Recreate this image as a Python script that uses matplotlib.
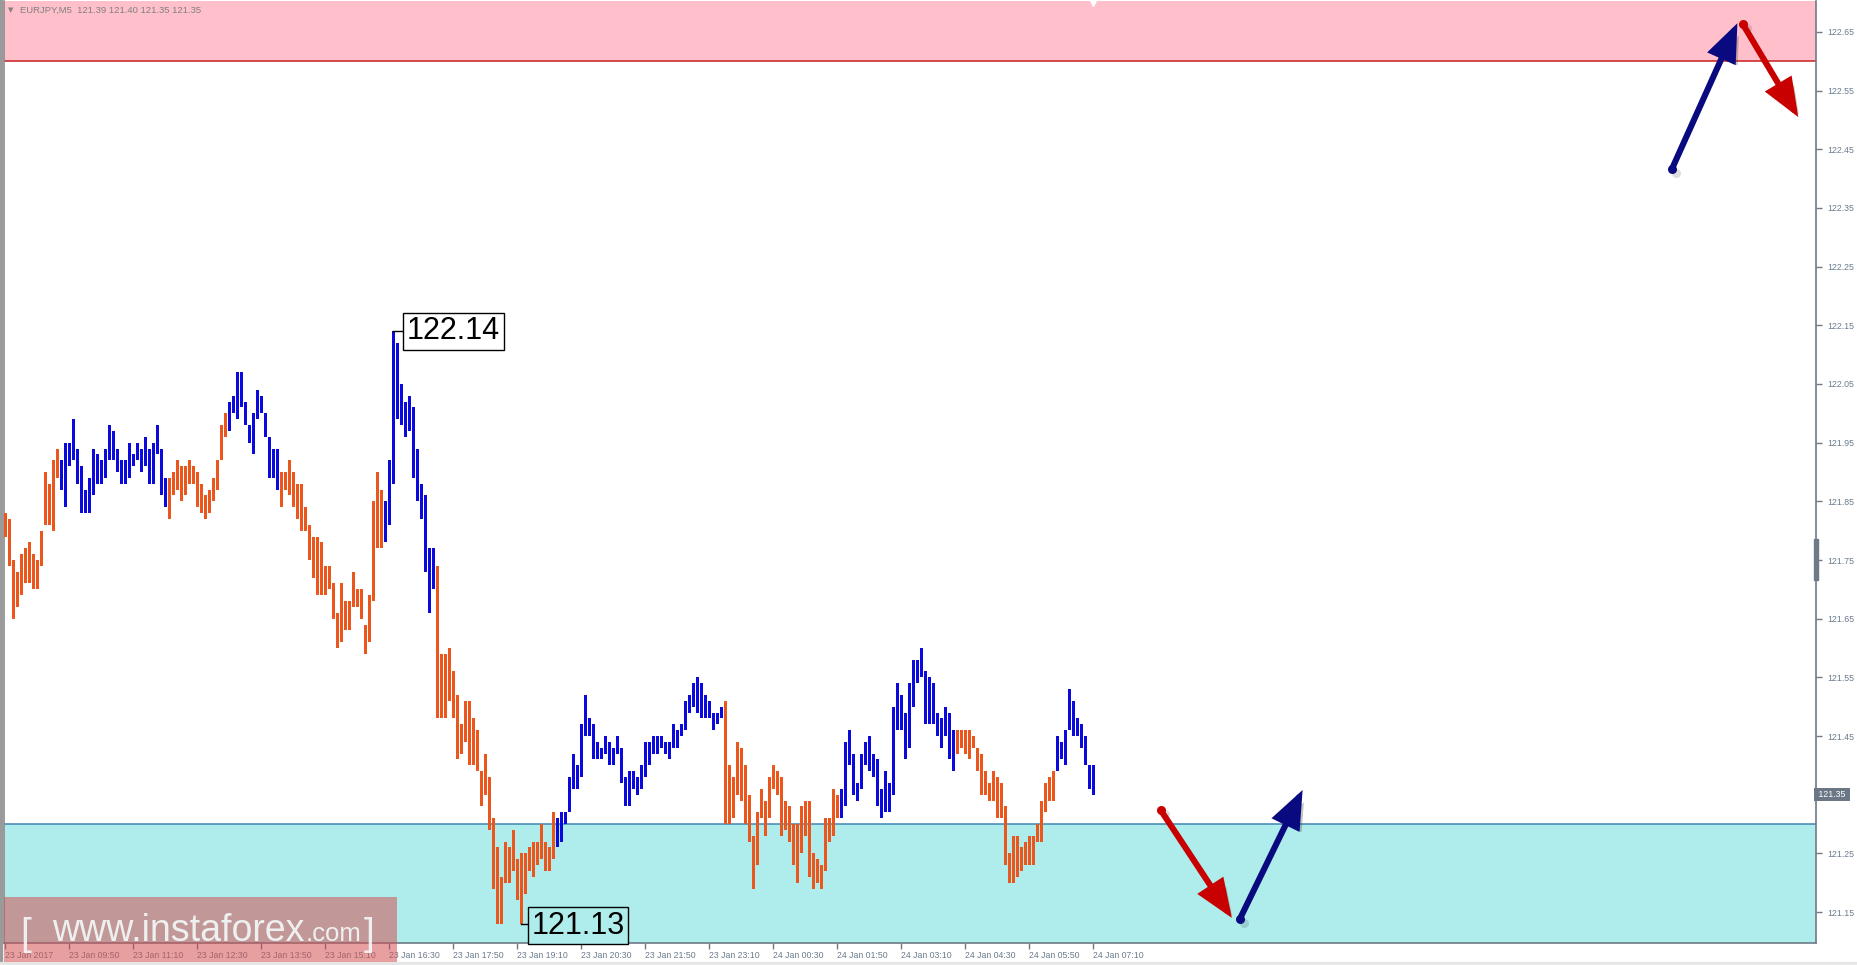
import matplotlib
matplotlib.use("Agg")
import matplotlib.pyplot as plt
import matplotlib.patheffects as pe
import matplotlib.transforms as mtransforms
from matplotlib.patches import Rectangle
import numpy as np

# ---------------- data ----------------
header_text = "EURJPY,M5  121.39 121.40 121.35 121.35"

bar_high = [
    121.83, 121.82, 121.75, 121.73, 121.76, 121.77, 121.78, 121.76, 121.75, 121.80,
    121.90, 121.88, 121.92, 121.94, 121.92, 121.95, 121.95, 121.99, 121.94, 121.91,
    121.87, 121.89, 121.94, 121.93, 121.92, 121.94, 121.98, 121.97, 121.94, 121.92,
    121.92, 121.95, 121.93, 121.95, 121.94, 121.96, 121.94, 121.95, 121.98, 121.94,
    121.89, 121.89, 121.90, 121.92, 121.91, 121.91, 121.92, 121.91, 121.90, 121.88,
    121.86, 121.87, 121.89, 121.92, 121.98, 122.00, 122.02, 122.03, 122.07, 122.07,
    122.02, 121.98, 122.00, 122.04, 122.03, 122.00, 121.96, 121.94, 121.94, 121.90,
    121.90, 121.92, 121.90, 121.88, 121.88, 121.84, 121.81, 121.79, 121.79, 121.78,
    121.74, 121.74, 121.71, 121.66, 121.71, 121.68, 121.68, 121.73, 121.70, 121.70,
    121.64, 121.69, 121.85, 121.90, 121.87, 121.85, 121.92, 122.14, 122.12, 122.05,
    122.02, 122.03, 122.01, 121.94, 121.88, 121.86, 121.77, 121.77, 121.74, 121.59,
    121.59, 121.60, 121.56, 121.52, 121.47, 121.51, 121.51, 121.48, 121.46, 121.39,
    121.42, 121.38, 121.31, 121.26, 121.21, 121.27, 121.26, 121.29, 121.24, 121.25,
    121.25, 121.26, 121.27, 121.27, 121.30, 121.27, 121.26, 121.32, 121.31, 121.32,
    121.32, 121.38, 121.42, 121.40, 121.47, 121.52, 121.48, 121.47, 121.44, 121.43,
    121.45, 121.44, 121.43, 121.45, 121.43, 121.38, 121.39, 121.39, 121.38, 121.40,
    121.44, 121.44, 121.45, 121.45, 121.45, 121.44, 121.44, 121.47, 121.46, 121.47,
    121.51, 121.52, 121.54, 121.55, 121.54, 121.52, 121.51, 121.49, 121.49, 121.50,
    121.51, 121.40, 121.38, 121.44, 121.43, 121.40, 121.35, 121.28, 121.32, 121.36,
    121.34, 121.38, 121.40, 121.39, 121.38, 121.34, 121.33, 121.30, 121.30, 121.33,
    121.34, 121.34, 121.25, 121.24, 121.23, 121.31, 121.31, 121.36, 121.35, 121.36,
    121.44, 121.46, 121.42, 121.37, 121.42, 121.44, 121.45, 121.42, 121.41, 121.36,
    121.39, 121.37, 121.50, 121.54, 121.52, 121.49, 121.54, 121.58, 121.58, 121.60,
    121.56, 121.55, 121.54, 121.49, 121.48, 121.50, 121.49, 121.46, 121.46, 121.46,
    121.46, 121.46, 121.45, 121.43, 121.42, 121.39, 121.37, 121.39, 121.38, 121.37,
    121.33, 121.25, 121.28, 121.28, 121.26, 121.27, 121.28, 121.28, 121.30, 121.34,
    121.37, 121.38, 121.39, 121.45, 121.44, 121.46, 121.53, 121.51, 121.48, 121.47,
    121.45, 121.40, 121.40,
]
bar_low = [
    121.79, 121.74, 121.65, 121.67, 121.69, 121.71, 121.71, 121.70, 121.70, 121.74,
    121.81, 121.81, 121.80, 121.89, 121.87, 121.84, 121.91, 121.92, 121.88, 121.83,
    121.83, 121.83, 121.86, 121.88, 121.88, 121.89, 121.92, 121.92, 121.90, 121.88,
    121.88, 121.89, 121.91, 121.92, 121.90, 121.91, 121.88, 121.88, 121.93, 121.86,
    121.84, 121.82, 121.86, 121.87, 121.85, 121.86, 121.88, 121.88, 121.84, 121.83,
    121.82, 121.83, 121.85, 121.87, 121.92, 121.96, 121.97, 122.00, 121.99, 122.01,
    121.98, 121.95, 121.93, 121.99, 122.00, 121.96, 121.89, 121.89, 121.87, 121.84,
    121.87, 121.86, 121.84, 121.82, 121.80, 121.80, 121.75, 121.72, 121.69, 121.69,
    121.69, 121.70, 121.65, 121.60, 121.61, 121.63, 121.63, 121.67, 121.67, 121.65,
    121.59, 121.61, 121.68, 121.77, 121.77, 121.78, 121.81, 121.88, 121.99, 121.98,
    121.96, 121.97, 121.89, 121.85, 121.82, 121.73, 121.66, 121.70, 121.48, 121.48,
    121.48, 121.51, 121.48, 121.41, 121.42, 121.44, 121.40, 121.40, 121.39, 121.33,
    121.35, 121.29, 121.19, 121.13, 121.13, 121.20, 121.20, 121.22, 121.17, 121.13,
    121.18, 121.22, 121.21, 121.23, 121.24, 121.22, 121.22, 121.24, 121.26, 121.27,
    121.30, 121.32, 121.36, 121.36, 121.38, 121.45, 121.45, 121.41, 121.41, 121.41,
    121.42, 121.40, 121.40, 121.42, 121.37, 121.33, 121.33, 121.36, 121.35, 121.36,
    121.38, 121.40, 121.42, 121.42, 121.43, 121.42, 121.41, 121.43, 121.43, 121.45,
    121.46, 121.49, 121.50, 121.49, 121.48, 121.48, 121.48, 121.46, 121.47, 121.48,
    121.30, 121.30, 121.31, 121.35, 121.34, 121.30, 121.27, 121.19, 121.23, 121.31,
    121.28, 121.31, 121.36, 121.35, 121.28, 121.29, 121.27, 121.23, 121.20, 121.25,
    121.28, 121.21, 121.19, 121.20, 121.19, 121.22, 121.27, 121.28, 121.31, 121.31,
    121.33, 121.40, 121.35, 121.34, 121.36, 121.40, 121.39, 121.38, 121.33, 121.31,
    121.32, 121.32, 121.35, 121.46, 121.46, 121.41, 121.43, 121.50, 121.54, 121.55,
    121.47, 121.47, 121.47, 121.45, 121.43, 121.45, 121.41, 121.39, 121.42, 121.43,
    121.42, 121.41, 121.43, 121.39, 121.35, 121.35, 121.34, 121.34, 121.31, 121.31,
    121.23, 121.20, 121.20, 121.21, 121.22, 121.23, 121.23, 121.23, 121.27, 121.27,
    121.32, 121.34, 121.34, 121.39, 121.41, 121.40, 121.46, 121.45, 121.45, 121.43,
    121.40, 121.36, 121.35,
]
# index ranges (inclusive) of bars drawn in blue; the rest are orange
blue_segments = [(14, 40), (56, 68), (95, 107), (138, 179), (209, 237), (263, 272)]

time_labels = ["23 Jan 2017", "23 Jan 09:50", "23 Jan 11:10", "23 Jan 12:30",
               "23 Jan 13:50", "23 Jan 15:10", "23 Jan 16:30", "23 Jan 17:50",
               "23 Jan 19:10", "23 Jan 20:30", "23 Jan 21:50", "23 Jan 23:10",
               "24 Jan 00:30", "24 Jan 01:50", "24 Jan 03:10", "24 Jan 04:30",
               "24 Jan 05:50", "24 Jan 07:10"]
bars_per_label = 16

price_ticks = [121.15, 121.25, 121.35, 121.45, 121.55, 121.65, 121.75, 121.85,
               121.95, 122.05, 122.15, 122.25, 122.35, 122.45, 122.55, 122.65]
last_price = 121.35
resistance_level = 122.60
support_level = 121.30
swing_high = (97, 122.14)
swing_low = (129, 121.13)

# forecast arrows: (start bar, start price, end bar, end price, kind)
forecast_arrows = [
    (288.9, 121.324, 306.7, 121.140, "down"),
    (308.7, 121.138, 324.4, 121.358, "up"),
    (416.7, 122.416, 433.1, 122.665, "up"),
    (434.4, 122.664, 448.3, 122.505, "down"),
]

# ---------------- styling ----------------
W, H = 1857, 965
DPI = 100
ORANGE = "#EA561C"
BLUE = "#0A0ADC"
AXCOL = "#6E7A86"
LABCOL = "#6B7B8C"
FONT = ["Liberation Sans", "DejaVu Sans"]
plt.rcParams["font.family"] = FONT

fig = plt.figure(figsize=(W / DPI, H / DPI), dpi=DPI, facecolor="white")
ax_l, ax_r, ax_t, ax_b = 4, 1816, 1, 943
ax = fig.add_axes([ax_l / W, 1 - ax_b / H, (ax_r - ax_l) / W, (ax_b - ax_t) / H])
ax.set_facecolor("white")

y_lo, y_hi = 121.0972, 122.7028
x_lo, x_hi = -0.25, 452.75

# zones
ax.axhspan(resistance_level, y_hi + 1, color="#FFC0CB", zorder=0, lw=0)
ax.axhline(resistance_level, color="#C81E1E", lw=1.1, zorder=1)
ax.axhspan(y_lo - 1, support_level, color="#AFEDED", zorder=0, lw=0)
ax.axhline(support_level, color="#3F86B4", lw=1.1, zorder=1)

# bars
n = len(bar_high)
idx = np.arange(n)
highs = np.array(bar_high)
lows = np.array(bar_low)
colors = [ORANGE] * n
for a, b in blue_segments:
    for k in range(a, b + 1):
        colors[k] = BLUE
ax.bar(idx, highs - lows, bottom=lows, width=0.75, color=colors, lw=0, zorder=3)

# swing labels
hx, hy = swing_high
ax.plot([hx, hx + 2.9], [hy, hy], color="black", lw=1, zorder=4)
ax.text(hx + 3.5, hy, "122.14", fontsize=22, color="black", ha="left", va="center",
        zorder=5, bbox=dict(boxstyle="square,pad=0.12", fc="white", ec="black", lw=1))
lx, ly = swing_low
ax.plot([lx, lx + 1.9], [ly, ly], color="black", lw=1, zorder=4)
ax.text(lx + 2.6, ly - 0.003, "121.13", fontsize=22, color="black", ha="left", va="center",
        zorder=5, clip_on=False,
        bbox=dict(boxstyle="square,pad=0.12", fc="#AFEDED", ec="black", lw=1))

# forecast arrows
arrow_colors = {"up": "#0A0A80", "down": "#C80000"}
shadow = [pe.SimplePatchShadow(offset=(3.5, -3.5), shadow_rgbFace="#404040", alpha=0.3),
          pe.Normal()]
shadow_shift = mtransforms.ScaledTranslation(3.0 / 72, -3.0 / 72, fig.dpi_scale_trans)
for x0, y0, x1, y1, kind in forecast_arrows:
    c = arrow_colors[kind]
    ax.annotate("", xy=(x1, y1), xytext=(x0, y0), zorder=6,
                arrowprops=dict(arrowstyle="-|>,head_length=2.0,head_width=0.8",
                                color=c, lw=4.4, shrinkA=0, shrinkB=0,
                                mutation_scale=10, joinstyle="miter",
                                path_effects=shadow))
    ax.plot([x0], [y0], "o", ms=6.5, color="#404040", alpha=0.18, mec="none", zorder=5.5,
            transform=ax.transData + shadow_shift)
    ax.plot([x0], [y0], "o", ms=6.5, color=c, mec="none", zorder=7)

# chart shift marker at top
ax.plot([n - 1], [y_hi - 0.004], marker="v", ms=5, color="white", zorder=6, clip_on=False)

ax.set_xlim(x_lo, x_hi)
ax.set_ylim(y_lo, y_hi)

# axes styling
ax.spines["top"].set_visible(False)
ax.spines["left"].set_color("#8A8A8A")
ax.spines["right"].set_color(AXCOL)
ax.spines["bottom"].set_color(AXCOL)
for s in ["left", "right", "bottom"]:
    ax.spines[s].set_linewidth(1.2)

ax.yaxis.tick_right()
ax.set_yticks(price_ticks)
ax.set_yticklabels(["" if abs(p - last_price) < 1e-6 else f"{p:.2f}" for p in price_ticks])
ax.tick_params(axis="y", length=4, width=1, color=AXCOL, labelcolor=LABCOL,
               labelsize=6.3, pad=4)
xt = np.arange(len(time_labels)) * bars_per_label
ax.set_xticks(xt)
ax.set_xticklabels(time_labels, ha="left")
ax.tick_params(axis="x", length=4, width=1, color=AXCOL, labelcolor=LABCOL,
               labelsize=6.3, pad=2)

# current price box on the axis
blend = mtransforms.blended_transform_factory(ax.transAxes, ax.transData)
ax.text(1.0, last_price, " 121.35 ", transform=blend, ha="left", va="center",
        color="white", fontsize=6.3, zorder=8, clip_on=False,
        bbox=dict(boxstyle="square,pad=0.22", fc="#6B7785", ec="none"))

# header
fig.text(8 / W, 1 - 10 / H, "\u25BC", fontsize=5, color="#808080", va="center",
         family=["DejaVu Sans"])
fig.text(20 / W, 1 - 10 / H, header_text, fontsize=6.8, color="#808080", va="center")

# scroll marker on the price axis
fig.add_artist(Rectangle((1813.5 / W, 1 - 580 / H), 4.5 / W, 41 / H, color=AXCOL, zorder=8))

# window border bits
fig.add_artist(Rectangle((0, 0), 1.5 / W, 1, color="#9A9A9A", zorder=8))
fig.add_artist(Rectangle((0, 0), 1, 3 / H, color="#E6E6E6", zorder=8))

# watermark
fig.add_artist(Rectangle((3.5 / W, 1 - 961.7 / H), (397 - 3.5) / W, (961.7 - 896.5) / H,
                         fc=(212 / 255, 79 / 255, 79 / 255), ec="none", alpha=0.54, zorder=10))
wm_col = (0.95, 0.97, 0.97, 0.92)
fig.text(20 / W, 1 - 945 / H, "[", fontsize=28, color=wm_col, zorder=11, va="baseline")
fig.text(52 / W, 1 - 941 / H, "www.instaforex", fontsize=27, color=wm_col, zorder=11,
         va="baseline")
fig.text(306 / W, 1 - 941 / H, ".com", fontsize=18.5, color=wm_col, zorder=11, va="baseline")
fig.text(364 / W, 1 - 945 / H, "]", fontsize=28, color=wm_col, zorder=11, va="baseline")

fig.savefig("out.png", dpi=DPI, facecolor="white")
